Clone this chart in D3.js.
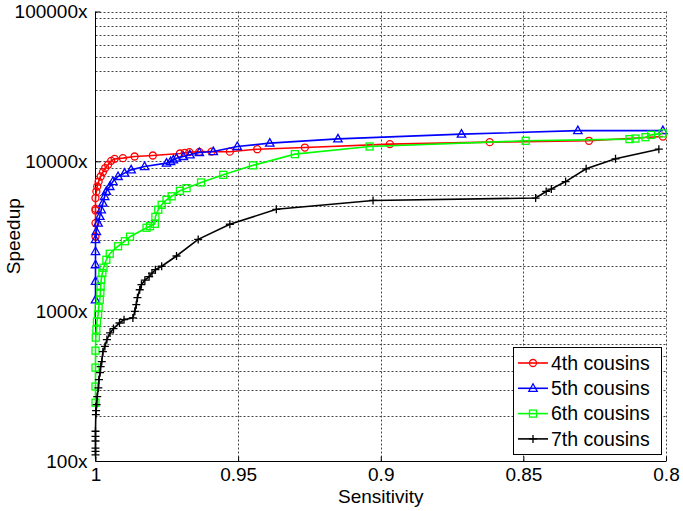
<!DOCTYPE html>
<html><head><meta charset="utf-8">
<script src="https://cdn.jsdelivr.net/npm/d3@7"></script>
<style>
body{margin:0;background:#fff;}
svg text{font-family:"Liberation Sans",Arial,sans-serif;fill:#000;}
</style></head>
<body><svg id="c" width="683" height="511"></svg>
<script>
const seriesNames = ["4th cousins","5th cousins","6th cousins","7th cousins"];
const seriesColors = ["#ff0000","#0000ff","#00ff00","#000000"];
const seriesMarkers = ["circle","triangle","square","plus"];

const sens4 = [1,1,1,1,1,0.9997,0.9994,0.9989,0.9982,0.9974,0.9966,0.9956,0.9945,0.9933,0.9904,0.9863,0.9799,0.9704,0.9687,0.9671,0.9636,0.9593,0.9529,0.9433,0.9266,0.8968,0.8618,0.8270,0.8011];
const speed4 = [3150,3870,4700,4820,5690,6300,6790,7330,7920,8480,9020,9490,10080,10390,10500,10770,10940,11280,11400,11520,11570,11620,11600,12050,12360,13030,13430,13710,14630];

const sens5 = [1,1,1,1,1,0.9997,0.9991,0.9985,0.998,0.9974,0.9968,0.9962,0.995,0.9939,0.9921,0.9898,0.9875,0.9828,0.9751,0.9737,0.9727,0.9716,0.9692,0.9669,0.9636,0.9587,0.9503,0.9389,0.915,0.8717,0.8309,0.8011];
const speed5 = [1190,1580,2040,2500,3000,3400,3870,4290,4750,5260,5820,6300,6790,7330,7920,8340,8770,9230,9730,9970,10230,10490,10770,11050,11450,11620,12560,13220,14130,15180,16030,16030];

const sens6 = [1,1,1,1,0.9999,0.9997,0.9995,0.9991,0.9989,0.9985,0.9983,0.9982,0.998,0.9976,0.9972,0.9962,0.995,0.9921,0.9897,0.9879,0.9821,0.9809,0.9792,0.979,0.978,0.9768,0.9751,0.9733,0.9704,0.9681,0.963,0.9552,0.9448,0.9301,0.9039,0.8492,0.8128,0.8107,0.8072,0.8052,0.8012];
const speed6 = [245,314,420,545,666,753,851,948,1055,1193,1328,1456,1622,1798,1950,2204,2417,2712,2929,3141,3603,3690,3831,4264,4753,5129,5537,5843,6355,6625,7227,8128,9400,11170,12560,13710,14070,14190,14490,15020,15370];

const sens7 = [1,1,1,1,1,1,0.9999,0.9998,0.9996,0.9994,0.999,0.9988,0.9984,0.9982,0.9978,0.9974,0.9967,0.996,0.9949,0.9937,0.9916,0.99,0.9869,0.9862,0.9857,0.9853,0.9845,0.9839,0.9827,0.9812,0.9802,0.979,0.9768,0.9716,0.964,0.9529,0.9366,0.9027,0.8457,0.842,0.8402,0.8352,0.828,0.8177,0.8025];
const speed7 = [110,116,122,136,146,158,204,217,238,269,308,349,389,427,461,537,582,646,716,765,834,877,902,998,1105,1230,1390,1503,1610,1698,1792,1892,1995,2335,3013,3802,4786,5483,5689,6295,6531,7328,8913,10390,12050];

const xTicks = [1,0.95,0.9,0.85,0.8];
const xTickLabels = ["1","0.95","0.9","0.85","0.8"];
const yTicks = [100,1000,10000,100000];
const yTickLabels = ["100x","1000x","10000x","100000x"];
const xLabel = "Sensitivity";
const yLabel = "Speedup";

const sensAll = [sens4,sens5,sens6,sens7];
const speedAll = [speed4,speed5,speed6,speed7];

const L=95.5, R=666, T=11.5, B=461;
const svg = d3.select("#c");
const x = d3.scaleLinear().domain([1,0.8]).range([L,R]);
const y = d3.scaleLog().domain([100,100000]).range([B,T]);

// grid
const minor=[];
for(let e=2;e<5;e++){for(let k=1;k<=9;k++){minor.push(k*Math.pow(10,e));}}
minor.push(100000);
const g = svg.append("g");
g.selectAll("line.h").data(minor.filter(v=>v>100)).enter().append("line")
 .attr("x1",L).attr("x2",R).attr("y1",d=>Math.round(y(d))+0.5).attr("y2",d=>Math.round(y(d))+0.5)
 .attr("stroke","#444").attr("stroke-width",1).attr("stroke-dasharray","2,2");
g.selectAll("line.v").data(xTicks.slice(1)).enter().append("line")
 .attr("x1",d=>Math.round(x(d))+0.5).attr("x2",d=>Math.round(x(d))+0.5).attr("y1",T).attr("y2",B)
 .attr("stroke","#444").attr("stroke-width",1).attr("stroke-dasharray","2,2");

// axes
const xAxis = d3.axisBottom(x).tickValues(xTicks).tickFormat((d,i)=>xTickLabels[i]).tickSize(-5).tickPadding(8);
const yAxis = d3.axisLeft(y).tickValues(yTicks).tickFormat((d,i)=>yTickLabels[i]).tickSize(-5).tickPadding(8);
const ax = svg.append("g").attr("transform",`translate(0,${Math.round(B)+0.5})`).call(xAxis);
const ay = svg.append("g").attr("transform",`translate(${Math.round(L)-0.5},0)`).call(yAxis);
[ax,ay].forEach(a=>{
  a.select(".domain").attr("stroke","#000").attr("stroke-width",1);
  a.selectAll(".tick line").attr("stroke","#000");
  a.selectAll("text").style("font-size","19px").attr("fill","#000");
});
ax.select(".domain").attr("d",`M${Math.round(L)-0.5},0H${R}`);
ay.select(".domain").attr("d",`M0,${B}V${T}`);
ax.selectAll(".tick text").attr("dy","0.6em");

svg.append("text").attr("x",(L+R)/2).attr("y",503).attr("text-anchor","middle").style("font-size","19px").text(xLabel);
svg.append("text").attr("transform",`translate(20,${(T+B)/2}) rotate(-90)`).attr("text-anchor","middle").style("font-size","19px").text(yLabel);

function drawMarker(sel, type, color){
  if(type==="circle") sel.append("circle").attr("r",3.5).attr("fill","none").attr("stroke",color).attr("stroke-width",1.3);
  else if(type==="triangle") sel.append("path").attr("d","M0,-4.5L4.2,3L-4.2,3Z").attr("fill","none").attr("stroke",color).attr("stroke-width",1.3);
  else if(type==="square") sel.append("rect").attr("x",-3.5).attr("y",-3.5).attr("width",7).attr("height",7).attr("fill","none").attr("stroke",color).attr("stroke-width",1.3);
  else sel.append("path").attr("d","M-4,0H4M0,-4V4").attr("stroke",color).attr("stroke-width",1.3);
}

const line = d3.line().x(d=>x(d[0])).y(d=>y(d[1]));
sensAll.forEach((s,i)=>{
  const pts = s.map((v,j)=>[v,speedAll[i][j]]);
  svg.append("path").attr("d",line(pts)).attr("fill","none").attr("stroke",seriesColors[i]).attr("stroke-width",1.6);
  const m = svg.append("g").selectAll("g").data(pts).enter().append("g")
    .attr("transform",d=>`translate(${x(d[0])},${y(d[1])})`);
  m.each(function(){drawMarker(d3.select(this),seriesMarkers[i],seriesColors[i]);});
});

// legend
const lg = svg.append("g");
lg.append("rect").attr("x",513.5).attr("y",347.5).attr("width",148).attr("height",107).attr("fill","#fff").attr("stroke","#000").attr("stroke-width",1);
seriesNames.forEach((n,i)=>{
  const yy = 363+i*25.3;
  lg.append("line").attr("x1",518).attr("x2",548).attr("y1",yy).attr("y2",yy).attr("stroke",seriesColors[i]).attr("stroke-width",1.6);
  drawMarker(lg.append("g").attr("transform",`translate(533,${yy})`),seriesMarkers[i],seriesColors[i]);
  lg.append("text").attr("x",551).attr("y",yy).attr("dy","0.35em").style("font-size","19.5px").text(n);
});
</script></body></html>
